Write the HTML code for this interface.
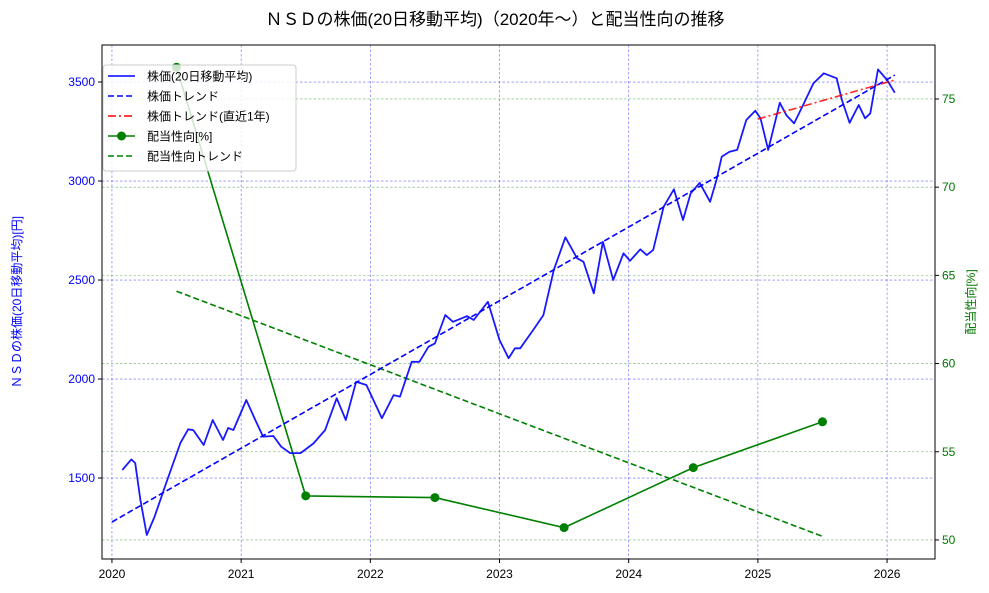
<!DOCTYPE html>
<html><head><meta charset="utf-8">
<style>
html,body{margin:0;padding:0;background:#fff;}
svg{display:block;font-family:"Liberation Sans","Noto Sans CJK JP",sans-serif;}
</style></head>
<body>
<svg id="chart" width="989" height="593" viewBox="0 0 989 593" xmlns="http://www.w3.org/2000/svg">
<text x="495" y="25" font-size="17" text-anchor="middle" fill="#000">ＮＳＤの株価(20日移動平均)（2020年～）と配当性向の推移</text>
<g id="grid"></g>
<g id="marks"></g>
<rect x="102" y="45" width="833" height="514" fill="none" stroke="#000" stroke-width="1"/>
<g id="axes"></g>
<text transform="translate(21,302) rotate(-90)" font-size="12" fill="#0000ff" text-anchor="middle">ＮＳＤの株価(20日移動平均)[円]</text>
<text transform="translate(975,302) rotate(-90)" font-size="12" fill="#007700" text-anchor="middle">配当性向[%]</text>
<g id="legend"></g>
</svg>
<script>
const priceDates=[2020.08,2020.15,2020.18,2020.22,2020.27,2020.33,2020.42,2020.53,2020.59,2020.63,2020.71,2020.78,2020.86,2020.90,2020.94,2021.04,2021.11,2021.17,2021.25,2021.31,2021.38,2021.46,2021.56,2021.65,2021.74,2021.81,2021.89,2021.97,2022.09,2022.18,2022.23,2022.32,2022.38,2022.45,2022.50,2022.58,2022.64,2022.75,2022.80,2022.91,2023.00,2023.07,2023.12,2023.16,2023.26,2023.34,2023.42,2023.51,2023.60,2023.65,2023.73,2023.80,2023.88,2023.96,2024.01,2024.09,2024.14,2024.19,2024.27,2024.35,2024.42,2024.48,2024.55,2024.63,2024.68,2024.72,2024.78,2024.84,2024.91,2024.98,2025.02,2025.08,2025.17,2025.22,2025.28,2025.35,2025.43,2025.51,2025.61,2025.65,2025.71,2025.78,2025.83,2025.87,2025.93,2026.00,2026.06];
const priceValues=[1540,1594,1576,1389,1212,1305,1475,1677,1746,1742,1667,1793,1692,1753,1742,1894,1793,1709,1712,1658,1626,1626,1675,1742,1903,1793,1986,1970,1802,1919,1911,2087,2087,2163,2180,2323,2289,2318,2298,2390,2197,2105,2155,2155,2247,2323,2551,2716,2610,2592,2433,2693,2500,2635,2597,2655,2626,2652,2870,2958,2803,2938,2991,2895,3005,3123,3148,3157,3308,3355,3317,3157,3395,3333,3291,3384,3493,3544,3519,3409,3294,3384,3317,3342,3564,3510,3446];
const trendDates=[2020.0,2026.06];
const trendValues=[1278,3535];
const recentDates=[2025.0,2026.06];
const recentValues=[3313,3510];
const payoutDates=[2020.5,2021.5,2022.5,2023.5,2024.5,2025.5];
const payoutValues=[76.8,52.5,52.4,50.7,54.1,56.7];
const payoutTrendDates=[2020.5,2025.5];
const payoutTrendValues=[64.1,50.2];
const xTicks=[2020,2021,2022,2023,2024,2025,2026];
const yLeftTicks=[1500,2000,2500,3000,3500];
const yRightTicks=[50,55,60,65,70,75];

const L=102,R=935,T=45,B=559;
const x=d=>L+(d-2019.923)/(2026.371-2019.923)*(R-L);
const yl=v=>B-(v-1091)/(3687-1091)*(B-T);
const yr=v=>B-(v-48.92)/(78.06-48.92)*(B-T);
const NS='http://www.w3.org/2000/svg';
function mk(tag,attrs,parent,txt){const e=document.createElementNS(NS,tag);for(const k in attrs)e.setAttribute(k,attrs[k]);if(txt!==undefined)e.textContent=txt;parent.appendChild(e);return e;}
const grid=document.getElementById('grid'),marks=document.getElementById('marks'),axes=document.getElementById('axes'),leg=document.getElementById('legend');

xTicks.forEach(t=>{
  const g=mk('line',{x1:x(t),x2:x(t),y1:T,y2:B,stroke:'#0000ff','stroke-opacity':0.6,'stroke-width':0.6,'stroke-dasharray':'2.5,2'},grid);
  
  
  const tk=mk('line',{x1:x(t),x2:x(t),y1:B,y2:B+4,stroke:'#000'},axes);
  
  
  const lb=mk('text',{x:x(t),y:B+19,'font-size':12,'text-anchor':'middle',fill:'#000'},axes,String(t));
  
  
});
yLeftTicks.forEach(t=>{
  const g=mk('line',{x1:L,x2:R,y1:yl(t),y2:yl(t),stroke:'#0000ff','stroke-opacity':0.6,'stroke-width':0.6,'stroke-dasharray':'2.5,2'},grid);
  
  
  const tk=mk('line',{x1:L-4,x2:L,y1:yl(t),y2:yl(t),stroke:'#000'},axes);
  
  
  const lb=mk('text',{x:L-7,y:yl(t)+4,'font-size':12,'text-anchor':'end',fill:'#0000ff'},axes,String(t));
  
  
});
yRightTicks.forEach(t=>{
  const g=mk('line',{x1:L,x2:R,y1:yr(t),y2:yr(t),stroke:'#008000','stroke-opacity':0.6,'stroke-width':0.6,'stroke-dasharray':'2.5,2'},grid);
  
  
  const tk=mk('line',{x1:R,x2:R+4,y1:yr(t),y2:yr(t),stroke:'#000'},axes);
  
  
  const lb=mk('text',{x:R+7,y:yr(t)+4,'font-size':12,'text-anchor':'start',fill:'#007700'},axes,String(t));
  
  
});

function poly(ds,vs,yf,attrs,name){
  const p=ds.map((d,i)=>x(d).toFixed(1)+','+yf(vs[i]).toFixed(1)).join(' ');
  const e=mk('polyline',Object.assign({points:p,fill:'none'},attrs),marks);
  
  
  return e;
}
poly(payoutTrendDates,payoutTrendValues,yr,{stroke:'#008000','stroke-width':1.6,'stroke-dasharray':'6,3'},'payout-trend-line');
poly(payoutDates,payoutValues,yr,{stroke:'#008000','stroke-width':1.6},'payout-ratio-line');
payoutDates.forEach((d,i)=>{
  const c=mk('circle',{cx:x(d),cy:yr(payoutValues[i]),r:4.5,fill:'#008000'},marks);
  
  
});
poly(priceDates,priceValues,yl,{stroke:'#0000ff','stroke-width':1.8,'stroke-linejoin':'round','stroke-opacity':0.9},'price-line');
poly(trendDates,trendValues,yl,{stroke:'#0000ff','stroke-width':1.6,'stroke-dasharray':'6,3'},'price-trend-line');
poly(recentDates,recentValues,yl,{stroke:'#ff0000','stroke-width':1.6,'stroke-dasharray':'8,3,2,3','stroke-opacity':0.85},'price-recent-trend-line');

// legend
const bg=mk('rect',{x:103,y:65,width:193,height:106,rx:3,fill:'#fff','fill-opacity':0.8,stroke:'#ccc'},leg);


const entries=[
 ['株価(20日移動平均)','#0000ff','',false],
 ['株価トレンド','#0000ff','6,3',false],
 ['株価トレンド(直近1年)','#ff0000','8,3,2,3',false],
 ['配当性向[%]','#008000','',true],
 ['配当性向トレンド','#008000','6,3',false]];
entries.forEach((e,i)=>{
  const yy=76+i*20;
  const ln=mk('line',{x1:108,x2:135,y1:yy,y2:yy,stroke:e[1],'stroke-width':1.6},leg);
  if(e[2])ln.setAttribute('stroke-dasharray',e[2]);
  
  
  if(e[3]){const c=mk('circle',{cx:121.5,cy:yy,r:4.5,fill:'#008000'},leg);
    
    }
  const t=mk('text',{x:147,y:yy+4.5,'font-size':12,fill:'#000'},leg,e[0]);
  
  
});
</script>
</body></html>
